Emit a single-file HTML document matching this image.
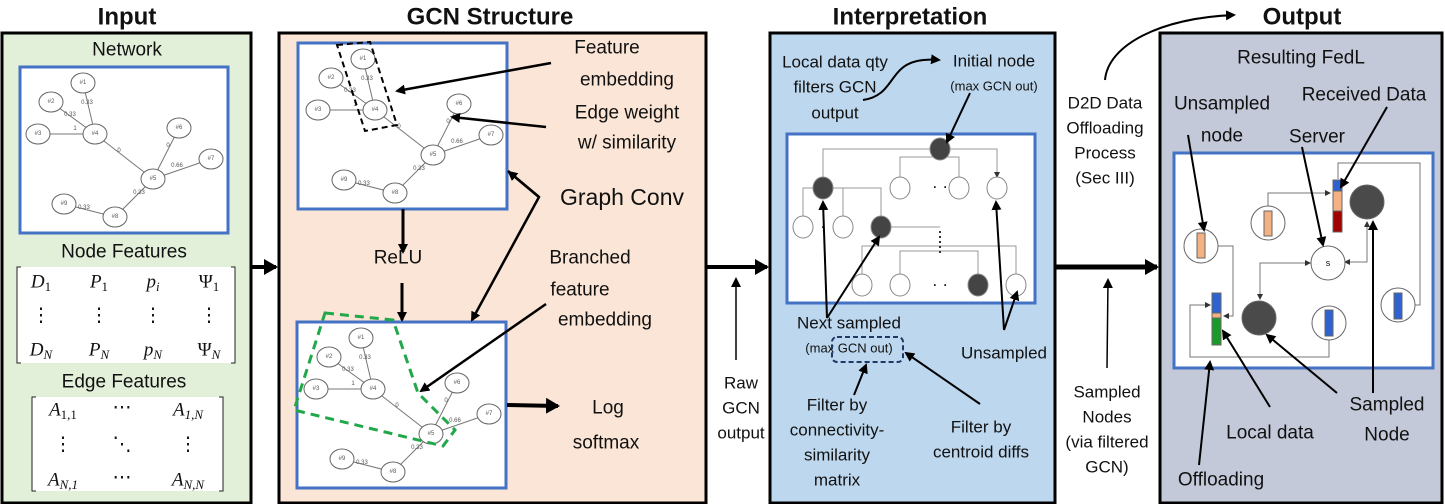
<!DOCTYPE html>
<html><head><meta charset="utf-8"><style>
html,body{margin:0;padding:0;background:#fff}
svg{display:block}
text{font-family:"Liberation Sans",sans-serif;fill:#111}
.t{font-size:17px;text-anchor:middle;dominant-baseline:central}
.b{font-size:19px;text-anchor:middle;dominant-baseline:central}
.h{font-size:24px;font-weight:bold;text-anchor:middle;dominant-baseline:central}
.m{font-family:"Liberation Serif",serif;font-style:italic;font-size:19px;text-anchor:middle;dominant-baseline:central}
.s{font-size:13px;text-anchor:middle;dominant-baseline:central}
.gl{font-size:6px;text-anchor:middle;dominant-baseline:central;fill:#555}
</style></head><body>
<svg width="1445" height="504" viewBox="0 0 1445 504" xmlns="http://www.w3.org/2000/svg">
<defs>
<marker id="a" markerWidth="10" markerHeight="10" refX="8" refY="5" orient="auto" markerUnits="userSpaceOnUse"><path d="M0,0 L10,5 L0,10 Z" fill="#000"/></marker>
<marker id="A" markerWidth="16" markerHeight="16" refX="12" refY="8" orient="auto" markerUnits="userSpaceOnUse"><path d="M0,0 L14,8 L0,16 Z" fill="#000"/></marker>
<marker id="sm" markerWidth="6" markerHeight="6" refX="5" refY="3" orient="auto" markerUnits="userSpaceOnUse"><path d="M0,0 L6,3 L0,6 Z" fill="#333"/></marker>
<g id="g">
<g stroke="#777" stroke-width="1" fill="none">
<line x1="83" y1="83" x2="95" y2="134"/><line x1="51" y1="102" x2="95" y2="134"/><line x1="38" y1="134" x2="95" y2="134"/>
<line x1="95" y1="134" x2="153" y2="179"/><line x1="179" y1="128" x2="153" y2="179"/><line x1="211" y1="159" x2="153" y2="179"/>
<line x1="153" y1="179" x2="115" y2="217"/><line x1="64" y1="204" x2="115" y2="217"/>
</g>
<g fill="#fff" stroke="#666" stroke-width="1">
<ellipse cx="83" cy="83" rx="12" ry="10"/><ellipse cx="51" cy="102" rx="12" ry="10"/><ellipse cx="38" cy="134" rx="12" ry="10"/>
<ellipse cx="95" cy="134" rx="12" ry="10"/><ellipse cx="179" cy="128" rx="12" ry="10"/><ellipse cx="211" cy="159" rx="12" ry="10"/>
<ellipse cx="153" cy="179" rx="12" ry="10"/><ellipse cx="64" cy="204" rx="12" ry="10"/><ellipse cx="115" cy="217" rx="12" ry="10"/>
</g>
<text class="gl" x="83" y="83">#1</text><text class="gl" x="51" y="102">#2</text><text class="gl" x="38" y="134">#3</text>
<text class="gl" x="95" y="134">#4</text><text class="gl" x="179" y="128">#6</text><text class="gl" x="211" y="159">#7</text>
<text class="gl" x="153" y="179">#5</text><text class="gl" x="64" y="204">#9</text><text class="gl" x="115" y="217">#8</text>
<text class="gl" x="87" y="103">0.33</text><text class="gl" x="70" y="115">0.33</text><text class="gl" x="75" y="129">1</text>
<text class="gl" x="119" y="151">0</text><text class="gl" x="168" y="146">0</text><text class="gl" x="177" y="166">0.66</text>
<text class="gl" x="139" y="193">0.33</text><text class="gl" x="84" y="208">0.33</text>
</g>
</defs>

<text class="h" x="127" y="17">Input</text>
<text class="h" x="490" y="17">GCN Structure</text>
<text class="h" x="910" y="17">Interpretation</text>
<text class="h" x="1302" y="17">Output</text>

<rect x="2" y="33" width="249" height="470" fill="#e2efd9" stroke="#000" stroke-width="3"/>
<text class="b" x="127" y="50">Network</text>
<rect x="20" y="67" width="208" height="166" fill="#fff" stroke="#4472c4" stroke-width="3"/>
<use href="#g"/>
<text class="b" x="124" y="252">Node Features</text>
<rect x="17" y="267" width="218" height="96" fill="#fff"/>
<path d="M21,267 h-4 v96 h4 M231,267 h4 v96 h-4" fill="none" stroke="#222" stroke-width="1"/>
<text class="m" x="41" y="282">D<tspan font-size="13" font-style="normal" dy="4">1</tspan></text>
<text class="m" x="99" y="282">P<tspan font-size="13" font-style="normal" dy="4">1</tspan></text>
<text class="m" x="153" y="282">p<tspan font-size="13" dy="4">i</tspan></text>
<text class="m" x="209" y="282" style="font-style:normal">Ψ<tspan font-size="13" dy="4">1</tspan></text>
<text class="m" x="41" y="316" style="font-style:normal">⋮</text><text class="m" x="99" y="316" style="font-style:normal">⋮</text><text class="m" x="153" y="316" style="font-style:normal">⋮</text><text class="m" x="209" y="316" style="font-style:normal">⋮</text>
<text class="m" x="41" y="350">D<tspan font-size="13" dy="4">N</tspan></text>
<text class="m" x="99" y="350">P<tspan font-size="13" dy="4">N</tspan></text>
<text class="m" x="153" y="350">p<tspan font-size="13" dy="4">N</tspan></text>
<text class="m" x="209" y="350" style="font-style:normal">Ψ<tspan font-size="13" style="font-style:italic" dy="4">N</tspan></text>
<text class="b" x="124" y="382">Edge Features</text>
<rect x="32" y="397" width="191" height="94" fill="#fff"/>
<path d="M36,397 h-4 v94 h4 M219,397 h4 v94 h-4" fill="none" stroke="#222" stroke-width="1"/>
<text class="m" x="63" y="410">A<tspan font-size="13" style="font-style:normal" dy="4">1,1</tspan></text>
<text class="m" x="122" y="408" style="font-style:normal">⋯</text>
<text class="m" x="188" y="410">A<tspan font-size="13" dy="4">1,N</tspan></text>
<text class="m" x="63" y="445" style="font-style:normal">⋮</text><text class="m" x="122" y="445" style="font-style:normal">⋱</text><text class="m" x="188" y="445" style="font-style:normal">⋮</text>
<text class="m" x="63" y="480">A<tspan font-size="13" dy="4">N,1</tspan></text>
<text class="m" x="122" y="478" style="font-style:normal">⋯</text>
<text class="m" x="188" y="480">A<tspan font-size="13" dy="4">N,N</tspan></text>

<line x1="252" y1="267" x2="276" y2="267" stroke="#000" stroke-width="4" marker-end="url(#A)"/>

<rect x="279" y="33" width="427" height="470" fill="#fbe5d6" stroke="#000" stroke-width="3"/>
<rect x="298" y="43" width="209" height="166" fill="#fff" stroke="#4472c4" stroke-width="3"/>
<use href="#g" transform="translate(280,-24)"/>
<polygon points="337,45 370,42 397,125 365,131" fill="none" stroke="#000" stroke-width="2" stroke-dasharray="6,4"/>
<rect x="297" y="322" width="209" height="166" fill="#fff" stroke="#4472c4" stroke-width="3"/>
<use href="#g" transform="translate(278,255)"/>
<polygon points="325,313 393,320 418,393 455,430 443,446 294,410" fill="none" stroke="#22a84a" stroke-width="3" stroke-dasharray="9,6"/>
<text class="b" x="607" y="48">Feature</text>
<text class="b" x="627" y="80">embedding</text>
<text class="b" x="627" y="113">Edge weight</text>
<text class="b" x="627" y="143">w/ similarity</text>
<text class="b" x="622" y="197" style="font-size:23px;font-weight:normal">Graph Conv</text>
<text class="b" x="398" y="258">ReLU</text>
<text class="b" x="590" y="258">Branched</text>
<text class="b" x="580" y="290">feature</text>
<text class="b" x="605" y="320">embedding</text>
<text class="b" x="608" y="408" font-size="21">Log</text>
<text class="b" x="606" y="443" font-size="21">softmax</text>
<g stroke="#000" stroke-width="2.5" fill="none">
<line x1="551" y1="63" x2="397" y2="91" marker-end="url(#a)"/>
<line x1="546" y1="127" x2="452" y2="117" marker-end="url(#a)"/>
<polyline points="508,171 539,197 472,320" marker-end="url(#a)"/>
<line x1="539" y1="197" x2="509" y2="172" marker-end="url(#a)"/>
<line x1="403" y1="209" x2="403" y2="252" stroke-width="3" marker-end="url(#a)"/>
<line x1="402" y1="283" x2="402" y2="320" stroke-width="3" marker-end="url(#a)"/>
<line x1="546" y1="304" x2="421" y2="391" marker-end="url(#a)"/>
<line x1="507" y1="405" x2="558" y2="406" stroke-width="4" marker-end="url(#A)"/>
</g>

<line x1="706" y1="267" x2="767" y2="267" stroke="#000" stroke-width="4" marker-end="url(#A)"/>
<text class="t" x="741" y="383" font-size="15">Raw</text>
<text class="t" x="741" y="408" font-size="15">GCN</text>
<text class="t" x="741" y="433" font-size="15">output</text>
<line x1="736" y1="360" x2="736" y2="279" stroke="#000" stroke-width="1.5" marker-end="url(#a)"/>

<rect x="770" y="33" width="285" height="470" fill="#bdd7ee" stroke="#000" stroke-width="3"/>
<rect x="787" y="134" width="248" height="169" fill="#fff" stroke="#4472c4" stroke-width="3"/>
<g stroke="#999" stroke-width="1" fill="none">
<path d="M823,177 V149 H997 V177" marker-end="url(#sm)"/>
<path d="M900,177 V157 H959 V177"/>
<path d="M803,216 V188 H881 V216"/><path d="M843,188 V216"/>
<path d="M881,227 H940"/>
<path d="M862,274 V246 H1016 V274"/><path d="M900,274 V251 H978 V274"/>
</g>
<g stroke="#888" stroke-width="1">
<ellipse cx="940" cy="149" rx="10" ry="11" fill="#444"/>
<ellipse cx="823" cy="188" rx="10" ry="11" fill="#444"/>
<ellipse cx="900" cy="188" rx="10" ry="11" fill="#fff"/><ellipse cx="959" cy="188" rx="10" ry="11" fill="#fff"/><ellipse cx="997" cy="188" rx="10" ry="11" fill="#fff"/>
<ellipse cx="803" cy="227" rx="10" ry="11" fill="#fff"/><ellipse cx="843" cy="227" rx="10" ry="11" fill="#fff"/>
<ellipse cx="881" cy="227" rx="10" ry="11" fill="#444"/>
<ellipse cx="862" cy="285" rx="10" ry="11" fill="#fff"/><ellipse cx="900" cy="285" rx="10" ry="11" fill="#fff"/>
<ellipse cx="978" cy="285" rx="10" ry="11" fill="#444"/><ellipse cx="1016" cy="285" rx="10" ry="11" fill="#fff"/>
</g>
<text class="t" x="940" y="186">· ·</text><text class="t" x="823" y="226">·</text><text class="t" x="940" y="284">· ·</text>
<line x1="940" y1="231" x2="940" y2="256" stroke="#333" stroke-width="2" stroke-dasharray="2,3"/>
<text class="t" x="835" y="62" font-size="16">Local data qty</text>
<text class="t" x="835" y="87" font-size="16">filters GCN</text>
<text class="t" x="835" y="113" font-size="16">output</text>
<text class="t" x="994" y="61" font-size="18">Initial node</text>
<text class="s" x="994" y="86">(max GCN out)</text>
<text class="t" x="849" y="323" font-size="18">Next sampled</text>
<text class="s" x="849" y="348">(max GCN out)</text>
<rect x="832" y="337" width="71" height="25" rx="5" fill="none" stroke="#1f3864" stroke-width="2" stroke-dasharray="5,3"/>
<text class="t" x="1004" y="353" font-size="16">Unsampled</text>
<text class="t" x="837" y="405" font-size="16">Filter by</text>
<text class="t" x="837" y="430" font-size="16">connectivity-</text>
<text class="t" x="837" y="455" font-size="16">similarity</text>
<text class="t" x="837" y="480" font-size="16">matrix</text>
<text class="t" x="981" y="427" font-size="16">Filter by</text>
<text class="t" x="981" y="452" font-size="16">centroid diffs</text>
<g stroke="#000" stroke-width="2" fill="none">
<path d="M863,100 C900,95 885,55 939,60" marker-end="url(#a)"/>
<line x1="970" y1="93" x2="947" y2="142" marker-end="url(#a)"/>
<line x1="827" y1="318" x2="823" y2="202" marker-end="url(#a)"/>
<line x1="827" y1="318" x2="879" y2="237" marker-end="url(#a)"/>
<line x1="1004" y1="330" x2="996" y2="202" marker-end="url(#a)"/>
<line x1="1004" y1="330" x2="1017" y2="292" marker-end="url(#a)"/>
<line x1="854" y1="395" x2="866" y2="365" marker-end="url(#a)"/>
<line x1="980" y1="404" x2="906" y2="353" marker-end="url(#a)"/>
</g>

<line x1="1056" y1="267" x2="1157" y2="267" stroke="#000" stroke-width="5" marker-end="url(#A)"/>
<text class="t" x="1105" y="103" font-size="15">D2D Data</text>
<text class="t" x="1105" y="128" font-size="15">Offloading</text>
<text class="t" x="1105" y="153" font-size="15">Process</text>
<text class="t" x="1105" y="178" font-size="15">(Sec III)</text>
<path d="M1105,80 C1108,45 1160,18 1234,15" fill="none" stroke="#000" stroke-width="2" marker-end="url(#a)"/>
<text class="t" x="1107" y="392" font-size="15">Sampled</text>
<text class="t" x="1107" y="417" font-size="15">Nodes</text>
<text class="t" x="1107" y="442" font-size="15">(via filtered</text>
<text class="t" x="1107" y="467" font-size="15">GCN)</text>
<line x1="1107" y1="368" x2="1108" y2="280" stroke="#000" stroke-width="1.5" marker-end="url(#a)"/>

<rect x="1160" y="33" width="282" height="470" fill="#c3c9d9" stroke="#000" stroke-width="3"/>
<text class="b" x="1301" y="58" font-size="22">Resulting FedL</text>
<text class="b" x="1222" y="104">Unsampled</text>
<text class="b" x="1222" y="136">node</text>
<text class="b" x="1364" y="95" font-size="18">Received Data</text>
<text class="b" x="1317" y="137">Server</text>
<rect x="1174" y="153" width="259" height="215" fill="#fff" stroke="#4472c4" stroke-width="3"/>
<g stroke="#777" stroke-width="1" fill="none">
<path d="M1218,246 H1233 V316 H1224" marker-end="url(#sm)"/>
<path d="M1268,207 V193 H1330" marker-end="url(#sm)"/>
<path d="M1402,305 H1420 V163 H1338 V179"/>
<path d="M1367,222 V262 H1345" marker-end="url(#sm)"/>
<path d="M1367,262 V222" marker-end="url(#sm)"/>
<path d="M1311,263 H1260 V299" marker-end="url(#sm)"/>
<path d="M1260,263 H1310" marker-end="url(#sm)"/>
<path d="M1329,340 V357 H1190 V305 H1210" marker-end="url(#sm)"/>
</g>
<g stroke="#666" stroke-width="1">
<circle cx="1201" cy="246" r="17" fill="#fff"/>
<circle cx="1268" cy="223" r="17" fill="#fff"/>
<circle cx="1328" cy="263" r="17" fill="#fff"/>
<circle cx="1329" cy="323" r="17" fill="#fff"/>
<circle cx="1398" cy="305" r="17" fill="#fff"/>
<circle cx="1367" cy="202" r="17" fill="#4a4a4a"/>
<circle cx="1259" cy="318" r="17" fill="#4a4a4a"/>
<rect x="1197" y="233" width="8" height="25" fill="#f4b183"/>
<rect x="1264" y="211" width="8" height="25" fill="#f4b183"/>
<rect x="1333" y="180" width="9" height="11" fill="#2e62d0"/>
<rect x="1333" y="191" width="9" height="20" fill="#f4b183"/>
<rect x="1333" y="211" width="9" height="21" fill="#a00000"/>
<rect x="1212" y="293" width="9" height="20" fill="#2e62d0"/>
<rect x="1212" y="313" width="9" height="5" fill="#f4b183"/>
<rect x="1212" y="318" width="9" height="27" fill="#1a9a2a"/>
<rect x="1325" y="310" width="8" height="26" fill="#2e62d0"/>
<rect x="1394" y="293" width="8" height="26" fill="#2e62d0"/>
</g>
<text x="1328" y="263" font-size="9" text-anchor="middle" dominant-baseline="central" fill="#555">s</text>
<text class="b" x="1387" y="405">Sampled</text>
<text class="b" x="1387" y="435">Node</text>
<text class="b" x="1270" y="433">Local data</text>
<text class="b" x="1221" y="480">Offloading</text>
<g stroke="#000" stroke-width="2" fill="none">
<line x1="1188" y1="135" x2="1204" y2="230" marker-end="url(#a)"/>
<line x1="1387" y1="107" x2="1341" y2="187" marker-end="url(#a)"/>
<line x1="1302" y1="147" x2="1323" y2="245" marker-end="url(#a)"/>
<line x1="1373" y1="393" x2="1373" y2="222" marker-end="url(#a)"/>
<line x1="1337" y1="393" x2="1267" y2="335" marker-end="url(#a)"/>
<line x1="1270" y1="407" x2="1223" y2="331" marker-end="url(#a)"/>
<line x1="1199" y1="465" x2="1210" y2="362" marker-end="url(#a)"/>
</g>
</svg>
</body></html>
